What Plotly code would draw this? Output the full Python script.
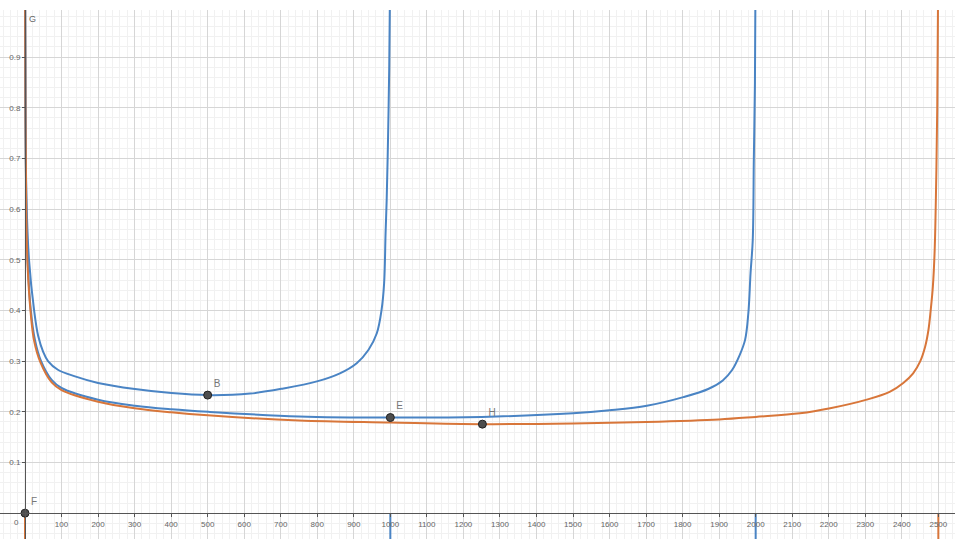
import plotly.graph_objects as go

# ---- data ----
# curve with asymptotes at 0 and 1000 (blue)
c1_x = [0.2, 1.5, 4, 11, 25, 36, 50, 63, 90, 137, 200, 301, 401, 500, 616, 707, 799, 862, 908, 940, 963, 976, 983, 987, 990, 994, 997, 999.3]
c1_y = [1.05, 0.80, 0.62, 0.50, 0.40, 0.35, 0.318, 0.300, 0.283, 0.270, 0.257, 0.245, 0.237, 0.233, 0.236, 0.246, 0.260, 0.276, 0.296, 0.322, 0.355, 0.401, 0.454, 0.553, 0.618, 0.75, 0.88, 1.05]

# curve with asymptotes at 0 and 2000 (blue)
c2_x = [0.2, 1.5, 3.5, 7, 16, 27, 44, 73, 100, 200, 301, 401, 502, 750, 1000, 1250, 1500, 1600, 1702, 1802, 1870, 1910, 1935, 1955, 1971, 1980, 1986, 1992, 1995, 1998, 1999.5]
c2_y = [1.05, 0.78, 0.60, 0.50, 0.40, 0.343, 0.300, 0.263, 0.247, 0.224, 0.212, 0.205, 0.200, 0.191, 0.1887, 0.190, 0.197, 0.203, 0.212, 0.229, 0.245, 0.262, 0.282, 0.310, 0.342, 0.395, 0.474, 0.539, 0.70, 0.85, 1.05]

# curve with asymptotes at 0 and 2500 (orange)
c3_x = [0.2, 1.5, 3.5, 7, 15, 25, 42, 73, 100, 200, 300, 400, 500, 750, 1000, 1250, 1500, 1700, 1900, 2000, 2121, 2204, 2304, 2368, 2404, 2431, 2450, 2464, 2473, 2479, 2485, 2490, 2494, 2497, 2499.5]
c3_y = [1.05, 0.77, 0.59, 0.49, 0.40, 0.340, 0.298, 0.258, 0.243, 0.220, 0.207, 0.199, 0.193, 0.183, 0.179, 0.1757, 0.177, 0.180, 0.185, 0.190, 0.197, 0.207, 0.224, 0.240, 0.257, 0.276, 0.299, 0.329, 0.362, 0.400, 0.447, 0.52, 0.65, 0.80, 1.05]

# short vertical pieces below the x axis at the asymptotes
stub_x = [0, 1000, 2000, 2500]
stub_colors = ["#d8763a", "#4a84c4", "#4a84c4", "#d8763a"]
stub_y = [0, -0.07]

# labelled points
pt_names = ["B", "E", "H", "F"]
pt_x = [500, 1000, 1252, 0]
pt_y = [0.233, 0.1887, 0.1757, 0]

x_ticks = [100, 200, 300, 400, 500, 600, 700, 800, 900, 1000, 1100, 1200, 1300,
           1400, 1500, 1600, 1700, 1800, 1900, 2000, 2100, 2200, 2300, 2400, 2500]
y_ticks = [0.1, 0.2, 0.3, 0.4, 0.5, 0.6, 0.7, 0.8, 0.9]
y_tick_text = ["0.1", "0.2", "0.3", "0.4", "0.5", "0.6", "0.7", "0.8", "0.9"]

BLUE = "#4a84c4"
ORANGE = "#d8763a"

X_RANGE = [-68.4, 2545.6]
Y_RANGE = [-0.051, 0.993]

fig = go.Figure()

for sx, sc in zip(stub_x, stub_colors):
    fig.add_trace(go.Scatter(x=[sx, sx], y=stub_y, mode="lines",
                             line=dict(color=sc, width=2), hoverinfo="skip", showlegend=False))

for xs, ys, col in [(c1_x, c1_y, BLUE), (c2_x, c2_y, BLUE), (c3_x, c3_y, ORANGE)]:
    fig.add_trace(go.Scatter(x=xs, y=ys, mode="lines",
                             line=dict(color=col, width=2, shape="spline", smoothing=1.0),
                             hoverinfo="skip", showlegend=False))

fig.add_trace(go.Scatter(x=pt_x, y=pt_y, mode="markers+text", text=pt_names,
                         textposition="top right",
                         textfont=dict(family="Liberation Sans, Arial", size=10, color="#777"),
                         marker=dict(size=8, color="#4d4d4d", line=dict(color="#222", width=1)),
                         hoverinfo="skip", showlegend=False, cliponaxis=False))

x_pos = (0 - Y_RANGE[0]) / (Y_RANGE[1] - Y_RANGE[0])
y_pos = (0 - X_RANGE[0]) / (X_RANGE[1] - X_RANGE[0])

fig.update_layout(
    width=960, height=539,
    margin=dict(l=0, r=5, t=10, b=0),
    paper_bgcolor="white", plot_bgcolor="white",
    font=dict(family="Liberation Sans, Arial", size=8, color="#666"),
    xaxis=dict(range=X_RANGE, domain=[0, 1], anchor="free", position=x_pos,
               tickmode="array", tickvals=x_ticks, ticks="outside", ticklen=3,
               tickcolor="#555", showline=True, linecolor="#555", linewidth=1,
               showgrid=True, gridcolor="#d6d6d6", gridwidth=1, zeroline=False,
               minor=dict(tickmode="linear", tick0=0, dtick=20, showgrid=True,
                          gridcolor="#f1f1f1", ticks=""),
               tickfont=dict(size=8, color="#666")),
    yaxis=dict(range=Y_RANGE, domain=[0, 1], anchor="free", position=y_pos,
               tickmode="array", tickvals=y_ticks, ticktext=y_tick_text,
               ticks="outside", ticklen=3, tickcolor="#555",
               showline=True, linecolor="#555", linewidth=1,
               showgrid=True, gridcolor="#d6d6d6", gridwidth=1, zeroline=False,
               minor=dict(tickmode="linear", tick0=0, dtick=0.02, showgrid=True,
                          gridcolor="#f1f1f1", ticks=""),
               tickfont=dict(size=8, color="#666")),
    annotations=[
        dict(x=0, y=0, text="0", showarrow=False, xanchor="right", yanchor="top",
             xshift=-4, yshift=-3, font=dict(size=8, color="#666")),
        dict(x=0, y=0.975, text="G", showarrow=False, xanchor="left", yanchor="middle",
             xshift=2, font=dict(size=9, color="#666")),
    ],
)

fig.write_html("out.html", config={"displayModeBar": False},
               post_script="document.body.style.margin='0';")
